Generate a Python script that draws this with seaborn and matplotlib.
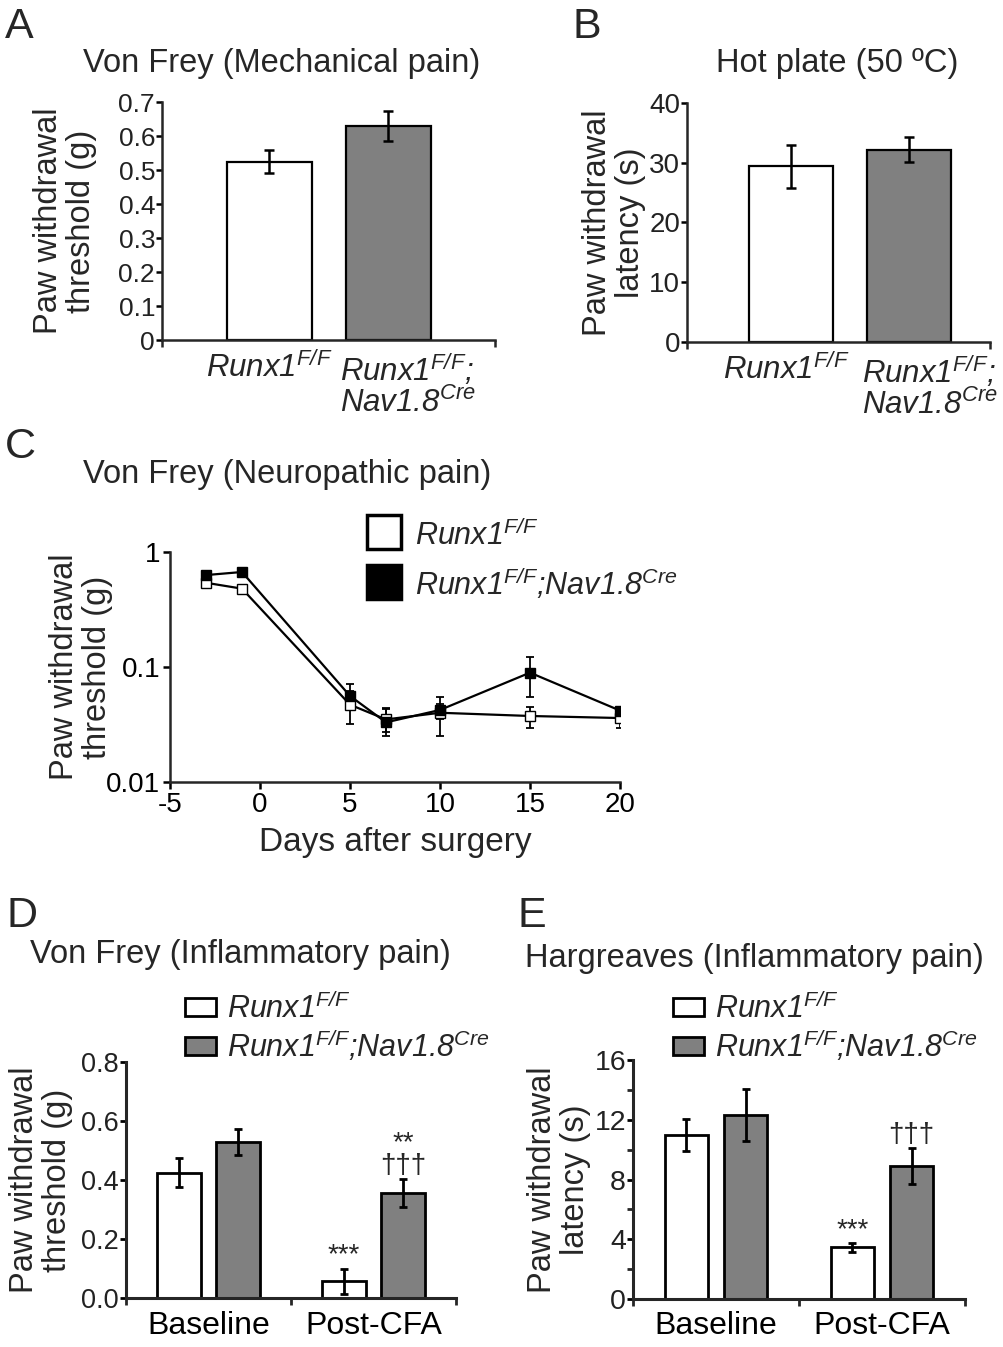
import numpy as np
import pandas as pd
import matplotlib
matplotlib.use("Agg")
import matplotlib.pyplot as plt
import matplotlib.transforms as mtransforms
from matplotlib.lines import Line2D
from matplotlib.patches import Patch
import seaborn as sns

# ---- data ----
genotypes = ['Runx1F/F', 'Runx1F/F;Nav1.8Cre']
geno_colors = ['white', '#808080']

# A: Von Frey, mechanical
a_mean = [0.525, 0.63]
a_sem = [0.035, 0.045]

# B: hot plate
b_mean = [29.4, 32.2]
b_sem = [3.6, 2.1]

# C: neuropathic pain time course
days = [-3, -1, 5, 7, 10, 15, 20]
c_wt = [0.54, 0.48, 0.047, 0.035, 0.040, 0.0375, 0.036]
c_wt_lo = [0.51, 0.45, 0.032, 0.027, 0.0251, 0.0293, 0.0293]
c_wt_hi = [0.57, 0.51, 0.062, 0.043, 0.048, 0.0452, 0.042]
c_ko = [0.63, 0.67, 0.056, 0.033, 0.0423, 0.0893, 0.0418]
c_ko_lo = [0.60, 0.63, 0.045, 0.0253, 0.035, 0.0552, 0.038]
c_ko_hi = [0.66, 0.71, 0.0707, 0.044, 0.0545, 0.123, 0.045]

# D / E: inflammatory pain
conditions = ['Baseline', 'Post-CFA']
d_wt = [0.425, 0.057]
d_wt_sem = [0.05, 0.043]
d_ko = [0.53, 0.355]
d_ko_sem = [0.044, 0.048]
d_wt_sig = ['', '***']
d_ko_sig = ['', '**\n\u2020\u2020\u2020']

e_wt = [11.0, 3.45]
e_wt_sem = [1.08, 0.28]
e_ko = [12.3, 8.9]
e_ko_sem = [1.75, 1.2]
e_wt_sig = ['', '***']
e_ko_sig = ['', '\u2020\u2020\u2020']

lab_wt = 'Runx1$^{\\mathrm{F/F}}$'
lab_ko = 'Runx1$^{\\mathrm{F/F}}$;Nav1.8$^{\\mathrm{Cre}}$'
lab_ko2 = 'Runx1$^{\\mathrm{F/F}}$;\nNav1.8$^{\\mathrm{Cre}}$'

sns.set_style("ticks")
plt.rcParams['font.family'] = ['Liberation Sans', 'DejaVu Sans']
plt.rcParams['mathtext.fontset'] = 'custom'
plt.rcParams['mathtext.rm'] = 'Liberation Sans:italic'
plt.rcParams['mathtext.it'] = 'Liberation Sans:italic'
plt.rcParams['mathtext.bf'] = 'Liberation Sans:italic:bold'
plt.rcParams['axes.linewidth'] = 1.8
plt.rcParams['axes.unicode_minus'] = False
plt.rcParams['xtick.direction'] = 'out'
plt.rcParams['ytick.direction'] = 'out'

W, H = 1004, 1347
fig = plt.figure(figsize=(W / 100, H / 100), dpi=100)


def add_ax(l, t, r, b):
    return fig.add_axes([l / W, 1 - b / H, (r - l) / W, (b - t) / H])


def fy(y):
    return 1 - y / H


def style_ax(ax, tick_size=19):
    sns.despine(ax=ax)
    ax.tick_params(axis='y', labelsize=tick_size, length=4, width=1.8, pad=1, colors='black')
    ax.tick_params(axis='x', which='major', length=0, labelsize=23, colors='black')
    ax.tick_params(axis='x', which='minor', length=5, width=1.8)
    ax.set_xlabel('')
    for t in ax.get_yticklabels():
        t.set_color('#222222')


def ylab(ax, text, x_px, l_px, r_px):
    ax.set_ylabel(text, fontsize=23.5, linespacing=1.08)
    ax.yaxis.set_label_coords((x_px - l_px) / (r_px - l_px), 0.5)


# ---------- A ----------
axA = add_ax(162, 102, 495, 340)
sns.barplot(x=genotypes, y=a_mean, hue=genotypes, palette=geno_colors, legend=False,
            width=0.71, edgecolor='black', linewidth=1.6, ax=axA)
axA.errorbar(range(2), a_mean, yerr=a_sem, fmt='none', ecolor='black', elinewidth=1.8,
             capsize=3.5, capthick=1.8)
axA.set_xlim(-0.903, 1.895)
axA.set_ylim(0, 0.7)
axA.set_yticks(np.arange(0, 0.71, 0.1))
axA.set_yticklabels(['0', '0.1', '0.2', '0.3', '0.4', '0.5', '0.6', '0.7'])
axA.set_xticks([])
axA.set_xticks([-0.903, 1.895], minor=True)
style_ax(axA)
ylab(axA, 'Paw withdrawal\nthreshold (g)', 97, 162, 495)
tr = mtransforms.blended_transform_factory(axA.transData, axA.transAxes)
axA.text(0, -0.05, lab_wt, transform=tr, ha='center', va='top', fontsize=22.5, style='italic')
axA.text(1 - 0.41, -0.05, lab_ko2, transform=tr, ha='left', va='top', fontsize=22.5,
         style='italic', linespacing=1.0)

# ---------- B ----------
axB = add_ax(687, 103, 990, 342)
sns.barplot(x=genotypes, y=b_mean, hue=genotypes, palette=geno_colors, legend=False,
            width=0.712, edgecolor='black', linewidth=1.6, ax=axB)
axB.errorbar(range(2), b_mean, yerr=b_sem, fmt='none', ecolor='black', elinewidth=1.8,
             capsize=3.5, capthick=1.8)
axB.set_xlim(-0.881, 1.686)
axB.set_ylim(0, 40)
axB.set_yticks([0, 10, 20, 30, 40])
axB.set_xticks([])
axB.set_xticks([-0.881, 1.686], minor=True)
style_ax(axB, tick_size=20)
ylab(axB, 'Paw withdrawal\nlatency (s)', 646, 687, 990)
tr = mtransforms.blended_transform_factory(axB.transData, axB.transAxes)
axB.text(-0.04, -0.05, lab_wt, transform=tr, ha='center', va='top', fontsize=22.5, style='italic')
axB.text(1 - 0.40, -0.05, lab_ko2, transform=tr, ha='left', va='top', fontsize=22.5,
         style='italic', linespacing=1.0)

# ---------- C ----------
axC = add_ax(170, 552, 620, 782)
c_df = pd.DataFrame({'day': days * 2, 'thr': c_wt + c_ko,
                     'genotype': [genotypes[0]] * len(days) + [genotypes[1]] * len(days)})
for g, mean, lo, hi, fc in [(genotypes[0], c_wt, c_wt_lo, c_wt_hi, 'white'),
                            (genotypes[1], c_ko, c_ko_lo, c_ko_hi, 'black')]:
    mean = np.array(mean)
    axC.errorbar(days, mean, yerr=[mean - np.array(lo), np.array(hi) - mean], fmt='none',
                 ecolor='black', elinewidth=1.3, capsize=3, capthick=1.3, zorder=2)
    sns.lineplot(data=c_df[c_df['genotype'] == g], x='day', y='thr', color='black',
                 linewidth=1.6, marker='s', markersize=6.5, markerfacecolor=fc,
                 markeredgecolor='black', markeredgewidth=1.0, ax=axC, zorder=3)
axC.set_yscale('log')
axC.set_xlim(-5, 20)
axC.set_ylim(0.01, 1)
axC.set_xticks([-5, 0, 5, 10, 15, 20])
axC.set_yticks([0.01, 0.1, 1])
axC.set_yticklabels(['0.01', '0.1', '1'])
axC.yaxis.set_minor_locator(matplotlib.ticker.NullLocator())
sns.despine(ax=axC)
axC.tick_params(axis='both', labelsize=20, length=5, width=1.8, pad=2, colors='black')
axC.set_xlabel('Days after surgery', fontsize=24, labelpad=7)
ylab(axC, 'Paw withdrawal\nthreshold (g)', 113, 170, 620)
c_handles = [Line2D([], [], ls='none', marker='s', ms=24, mfc='white', mec='black', mew=2.5),
             Line2D([], [], ls='none', marker='s', ms=24, mfc='black', mec='black', mew=2.5)]
fig.legend(c_handles, [lab_wt, lab_ko], loc='upper left', bbox_to_anchor=(366 / W, fy(519)),
           frameon=False, prop={'size': 22, 'style': 'italic'}, handlelength=1.2,
           handleheight=1.2, handletextpad=0.4, labelspacing=0.45, borderpad=0, borderaxespad=0)


# ---------- D & E ----------
def cfa_panel(ax, wt, wt_sem, ko, ko_sem, wt_sig, ko_sig, ymax, yticks, ylabels):
    df = pd.DataFrame({'cond': conditions * 2, 'val': wt + ko,
                       'genotype': [genotypes[0]] * 2 + [genotypes[1]] * 2})
    sns.barplot(data=df, x='cond', y='val', hue='genotype', palette=geno_colors, legend=False,
                width=0.716, gap=0.27, edgecolor='black', linewidth=2, ax=ax)
    for cont, mean, sem, sig in zip(ax.containers, [wt, ko], [wt_sem, ko_sem], [wt_sig, ko_sig]):
        xs = [p.get_x() + p.get_width() / 2 for p in cont.patches]
        ax.errorbar(xs, mean, yerr=sem, fmt='none', ecolor='black', elinewidth=2,
                    capsize=3, capthick=2)
        for x, m, s, t in zip(xs, mean, sem, sig):
            if t:
                ax.annotate(t, (x, m + s), xytext=(0, 0), textcoords='offset points',
                            ha='center', va='bottom', fontsize=20, linespacing=0.85)
    ax.set_xlim(-0.5, 1.5)
    ax.set_ylim(0, ymax)
    ax.set_yticks(yticks)
    ax.set_yticklabels(ylabels)
    ax.set_xticks([0, 1])
    ax.set_xticklabels(conditions)
    ax.set_xticks([-0.5, 0.5, 1.5], minor=True)
    style_ax(ax, tick_size=19.5)
    ax.tick_params(axis='x', which='major', pad=9)
    ax.tick_params(axis='both', which='both', width=2)
    for s in ax.spines.values():
        s.set_linewidth(2.2)


axD = add_ax(126, 1062, 456, 1298)
cfa_panel(axD, d_wt, d_wt_sem, d_ko, d_ko_sem, d_wt_sig, d_ko_sig, 0.8,
          [0, 0.2, 0.4, 0.6, 0.8], ['0.0', '0.2', '0.4', '0.6', '0.8'])
ylab(axD, 'Paw withdrawal\nthreshold (g)', 73, 126, 456)

axE = add_ax(633, 1060, 965, 1299)
cfa_panel(axE, e_wt, e_wt_sem, e_ko, e_ko_sem, e_wt_sig, e_ko_sig, 16,
          [0, 4, 8, 12, 16], ['0', '4', '8', '12', '16'])
axE.set_yticks([2, 6, 10, 14], minor=True)
axE.tick_params(axis='y', which='minor', length=4, width=2)
axE.tick_params(axis='y', labelsize=20.5)
ylab(axE, 'Paw withdrawal\nlatency (s)', 591, 633, 965)

for x0 in [185, 673]:
    handles = [Patch(facecolor=c, edgecolor='black', linewidth=2) for c in geno_colors]
    fig.legend(handles, [lab_wt, lab_ko], loc='upper left', bbox_to_anchor=(x0 / W, fy(993)),
               frameon=False, prop={'size': 22, 'style': 'italic'}, handlelength=1.0,
               handleheight=0.55, handletextpad=0.36, labelspacing=0.1, borderpad=0,
               borderaxespad=0)

# ---------- titles and panel letters ----------
titles = [(83, 72, 'Von Frey (Mechanical pain)'), (716, 72, 'Hot plate (50 \u00baC)'),
          (83, 483, 'Von Frey (Neuropathic pain)'), (30, 963, 'Von Frey (Inflammatory pain)'),
          (525, 967, 'Hargreaves (Inflammatory pain)')]
for x, y, t in titles:
    fig.text(x / W, fy(y), t, fontsize=23.5, ha='left', va='baseline')

letters = [(5, 38, 'A'), (572, 38, 'B'), (5, 458, 'C'), (6, 927, 'D'), (518, 927, 'E')]
for x, y, t in letters:
    fig.text(x / W, fy(y), t, fontsize=31, ha='left', va='baseline')

fig.savefig('out.png', dpi=100)
